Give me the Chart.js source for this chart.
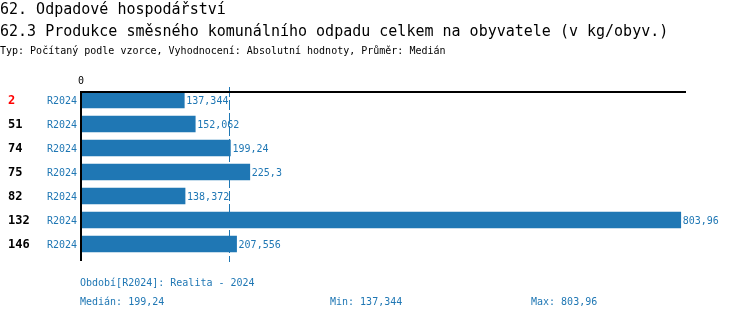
<!DOCTYPE html>
<html>
<head>
<meta charset="utf-8">
<script src="https://cdn.jsdelivr.net/npm/chart.js@4"></script>
<style>
  body { margin: 0; background: #fff; }
  #wrap { position: relative; width: 750px; height: 320px; overflow: hidden; }
  #chart { position: absolute; left: 0; top: 0; }
  .txt { position: absolute; white-space: pre; font-family: "DejaVu Sans Mono", monospace; line-height: 1; }
  .t1 { font-size: 15px; color: #000; }
  .t3 { font-size: 10px; color: #000; }
  .ft { font-size: 10px; color: #1f77b4; }
</style>
</head>
<body>
<div id="wrap">
  <canvas id="chart" width="750" height="320"></canvas>
  <div class="txt t1" style="left:0;top:2px">62. Odpadové hospodářství</div>
  <div class="txt t1" style="left:0;top:24px">62.3 Produkce směsného komunálního odpadu celkem na obyvatele (v kg/obyv.)</div>
  <div class="txt t3" style="left:0;top:46px">Typ: Počítaný podle vzorce, Vyhodnocení: Absolutní hodnoty, Průměr: Medián</div>
  <div class="txt ft" style="left:80px;top:278px">Období[R2024]: Realita - 2024</div>
  <div class="txt ft" style="left:80px;top:297px">Medián: 199,24</div>
  <div class="txt ft" style="left:330px;top:297px">Min: 137,344</div>
  <div class="txt ft" style="left:531px;top:297px">Max: 803,96</div>
</div>
<script>
const ranks = ['2', '51', '74', '75', '82', '132', '146'];
const periods = ['R2024', 'R2024', 'R2024', 'R2024', 'R2024', 'R2024', 'R2024'];
const values = [137.344, 152.062, 199.24, 225.3, 138.372, 803.96, 207.556];
const median = 199.24;

const blue = '#1f77b4';
const mono = '"DejaVu Sans Mono", monospace';

function fmt(v) {
    return String(v).replace('.', ',');
}

const extras = {
    id: 'extras',
    afterDatasetsDraw(chart) {
        const ctx = chart.ctx;
        const x = chart.scales.x;
        const y = chart.scales.y;
        const x0 = x.getPixelForValue(0);
        const xm = Math.round(x.getPixelForValue(median)) - 0.5;
        ctx.save();

        // median line
        ctx.strokeStyle = blue;
        ctx.lineWidth = 1;
        ctx.setLineDash([10, 3]);
        ctx.beginPath();
        ctx.moveTo(xm, 87);
        ctx.lineTo(xm, 262);
        ctx.stroke();
        ctx.setLineDash([]);

        // top line + zero axis
        ctx.strokeStyle = '#000';
        ctx.lineWidth = 2;
        ctx.beginPath();
        ctx.moveTo(80, 92);
        ctx.lineTo(686, 92);
        ctx.stroke();
        ctx.beginPath();
        ctx.moveTo(81, 91);
        ctx.lineTo(81, 261);
        ctx.stroke();

        ctx.fillStyle = '#000';
        ctx.font = '10px ' + mono;
        ctx.textAlign = 'center';
        ctx.textBaseline = 'middle';
        ctx.fillText('0', x0 - 1, 81);

        const meta = chart.getDatasetMeta(0);
        meta.data.forEach((bar, i) => {
            const cy = y.getPixelForValue(i);
            ctx.textBaseline = 'middle';

            ctx.font = 'bold 12px ' + mono;
            ctx.textAlign = 'left';
            ctx.fillStyle = i === 0 ? '#ff0000' : '#000';
            ctx.fillText(ranks[i], 8, cy + 1);

            ctx.font = '10px ' + mono;
            ctx.textAlign = 'right';
            ctx.fillStyle = blue;
            ctx.fillText(periods[i], 77, cy + 1);

            ctx.textAlign = 'left';
            ctx.fillText(fmt(values[i]), bar.x + 2, cy + 1);
        });
        ctx.restore();
    }
};

new Chart(document.getElementById('chart'), {
    type: 'bar',
    data: {
        labels: ranks,
        datasets: [{
            data: values,
            backgroundColor: blue,
            borderWidth: 0,
            barThickness: 16
        }]
    },
    options: {
        indexAxis: 'y',
        responsive: false,
        animation: false,
        devicePixelRatio: 1,
        layout: { padding: { left: 82, right: 64, top: 88, bottom: 64 } },
        plugins: {
            legend: { display: false },
            tooltip: { enabled: false }
        },
        scales: {
            x: { display: false, min: 0, max: 811 },
            y: { display: false }
        }
    },
    plugins: [extras]
});
</script>
</body>
</html>
